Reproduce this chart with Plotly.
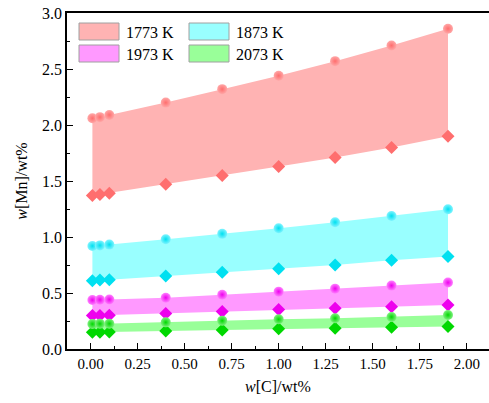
import plotly.graph_objects as go

# ---- data ----
x_c = [0.01, 0.05, 0.1, 0.4, 0.7, 1.0, 1.3, 1.6, 1.9]
temps = ["1773 K", "1873 K", "1973 K", "2073 K"]
upper_1773 = [2.06, 2.07, 2.09, 2.20, 2.32, 2.44, 2.57, 2.71, 2.86]
lower_1773 = [1.37, 1.38, 1.39, 1.47, 1.55, 1.63, 1.71, 1.80, 1.90]
upper_1873 = [0.92, 0.925, 0.932, 0.98, 1.028, 1.078, 1.132, 1.188, 1.248]
lower_1873 = [0.61, 0.615, 0.618, 0.652, 0.685, 0.716, 0.75, 0.792, 0.826]
upper_1973 = [0.438, 0.44, 0.442, 0.458, 0.485, 0.512, 0.539, 0.566, 0.593]
lower_1973 = [0.298, 0.30, 0.302, 0.316, 0.334, 0.352, 0.364, 0.378, 0.393]
upper_2073 = [0.223, 0.225, 0.226, 0.238, 0.253, 0.265, 0.274, 0.286, 0.304]
lower_2073 = [0.149, 0.15, 0.151, 0.161, 0.17, 0.181, 0.185, 0.194, 0.20]

uppers = [upper_1773, upper_1873, upper_1973, upper_2073]
lowers = [lower_1773, lower_1873, lower_1973, lower_2073]
fill_colors = ["#FFB3B3", "#99FFFF", "#FF99FF", "#99FF99"]
mark_colors = ["#FF6E6E", "#00E0F0", "#EE00EE", "#00D800"]
mark_mid = ["#FFA8A8", "#80F4FF", "#FF80FF", "#80F080"]

FONT = "Liberation Serif, Times New Roman, serif"

fig = go.Figure()
for up, lo, fc, mc, mm, name in zip(uppers, lowers, fill_colors, mark_colors, mark_mid, temps):
    fig.add_trace(go.Scatter(
        x=x_c + x_c[::-1], y=up + lo[::-1], fill="toself", fillcolor=fc,
        mode="lines", line=dict(width=0, color=fc), name=name, showlegend=False,
        hoverinfo="skip"))
    fig.add_trace(go.Scatter(
        x=x_c, y=lo, mode="markers", showlegend=False,
        marker=dict(symbol="diamond", size=10, color=mc, line=dict(width=0))))
    fig.add_trace(go.Scatter(
        x=x_c, y=up, mode="markers", showlegend=False,
        marker=dict(symbol="circle", size=10, color=mm,
                    gradient=dict(type="radial", color=mc), line=dict(width=0))))

# manual legend (2 x 2)
W, H = 489, 403
ml_, mr_, mt_, mb_ = 67, 0, 13, 54
pw, ph = W - ml_ - mr_, H - mt_ - mb_

def px2paper(px, py):
    return (px - ml_) / pw, 1 - (py - mt_) / ph

leg_pos = [(79, 23), (189, 23), (79, 45), (189, 45)]
for (bx, by), fc, name in zip(leg_pos, fill_colors, temps):
    x0, y1 = px2paper(bx, by)
    x1, y0 = px2paper(bx + 40, by + 17)
    fig.add_shape(type="rect", xref="paper", yref="paper", x0=x0, x1=x1, y0=y0, y1=y1,
                  fillcolor=fc, line=dict(color="#A0A0A0", width=1))
    tx, ty = px2paper(bx + 45, by + 9)
    fig.add_annotation(xref="paper", yref="paper", x=tx, y=ty, text=name, showarrow=False,
                       xanchor="left", yanchor="middle", font=dict(family=FONT, size=16, color="black"))

fig.update_layout(
    width=W, height=H,
    margin=dict(l=ml_, r=mr_, t=mt_, b=mb_),
    paper_bgcolor="white", plot_bgcolor="white",
    font=dict(family=FONT, size=15, color="black"),
    showlegend=False,
)
fig.update_xaxes(
    range=[-0.125, 2.118], tickmode="linear", tick0=0, dtick=0.25, tickformat=".2f",
    ticks="inside", ticklen=6, tickwidth=1.2, tickcolor="black",
    minor=dict(ticks="inside", ticklen=3, tickwidth=1.2, tickcolor="black", dtick=0.125, tick0=0),
    showline=True, linecolor="black", linewidth=1.5, mirror=True,
    showgrid=False, zeroline=False,
    tickfont=dict(family=FONT, size=15),
    title=dict(text="<i>w</i>[C]/wt%", font=dict(family=FONT, size=16), standoff=10),
)
fig.update_yaxes(
    range=[0, 3], tickmode="linear", tick0=0, dtick=0.5, tickformat=".1f",
    ticks="inside", ticklen=6, tickwidth=1.2, tickcolor="black",
    minor=dict(ticks="inside", ticklen=3, tickwidth=1.2, tickcolor="black", dtick=0.25, tick0=0),
    showline=True, linecolor="black", linewidth=1.5, mirror=False,
    showgrid=False, zeroline=False,
    tickfont=dict(family=FONT, size=16),
    title=dict(text="<i>w</i>[Mn]/wt%", font=dict(family=FONT, size=16), standoff=10),
)

fig.write_html("out.html")
